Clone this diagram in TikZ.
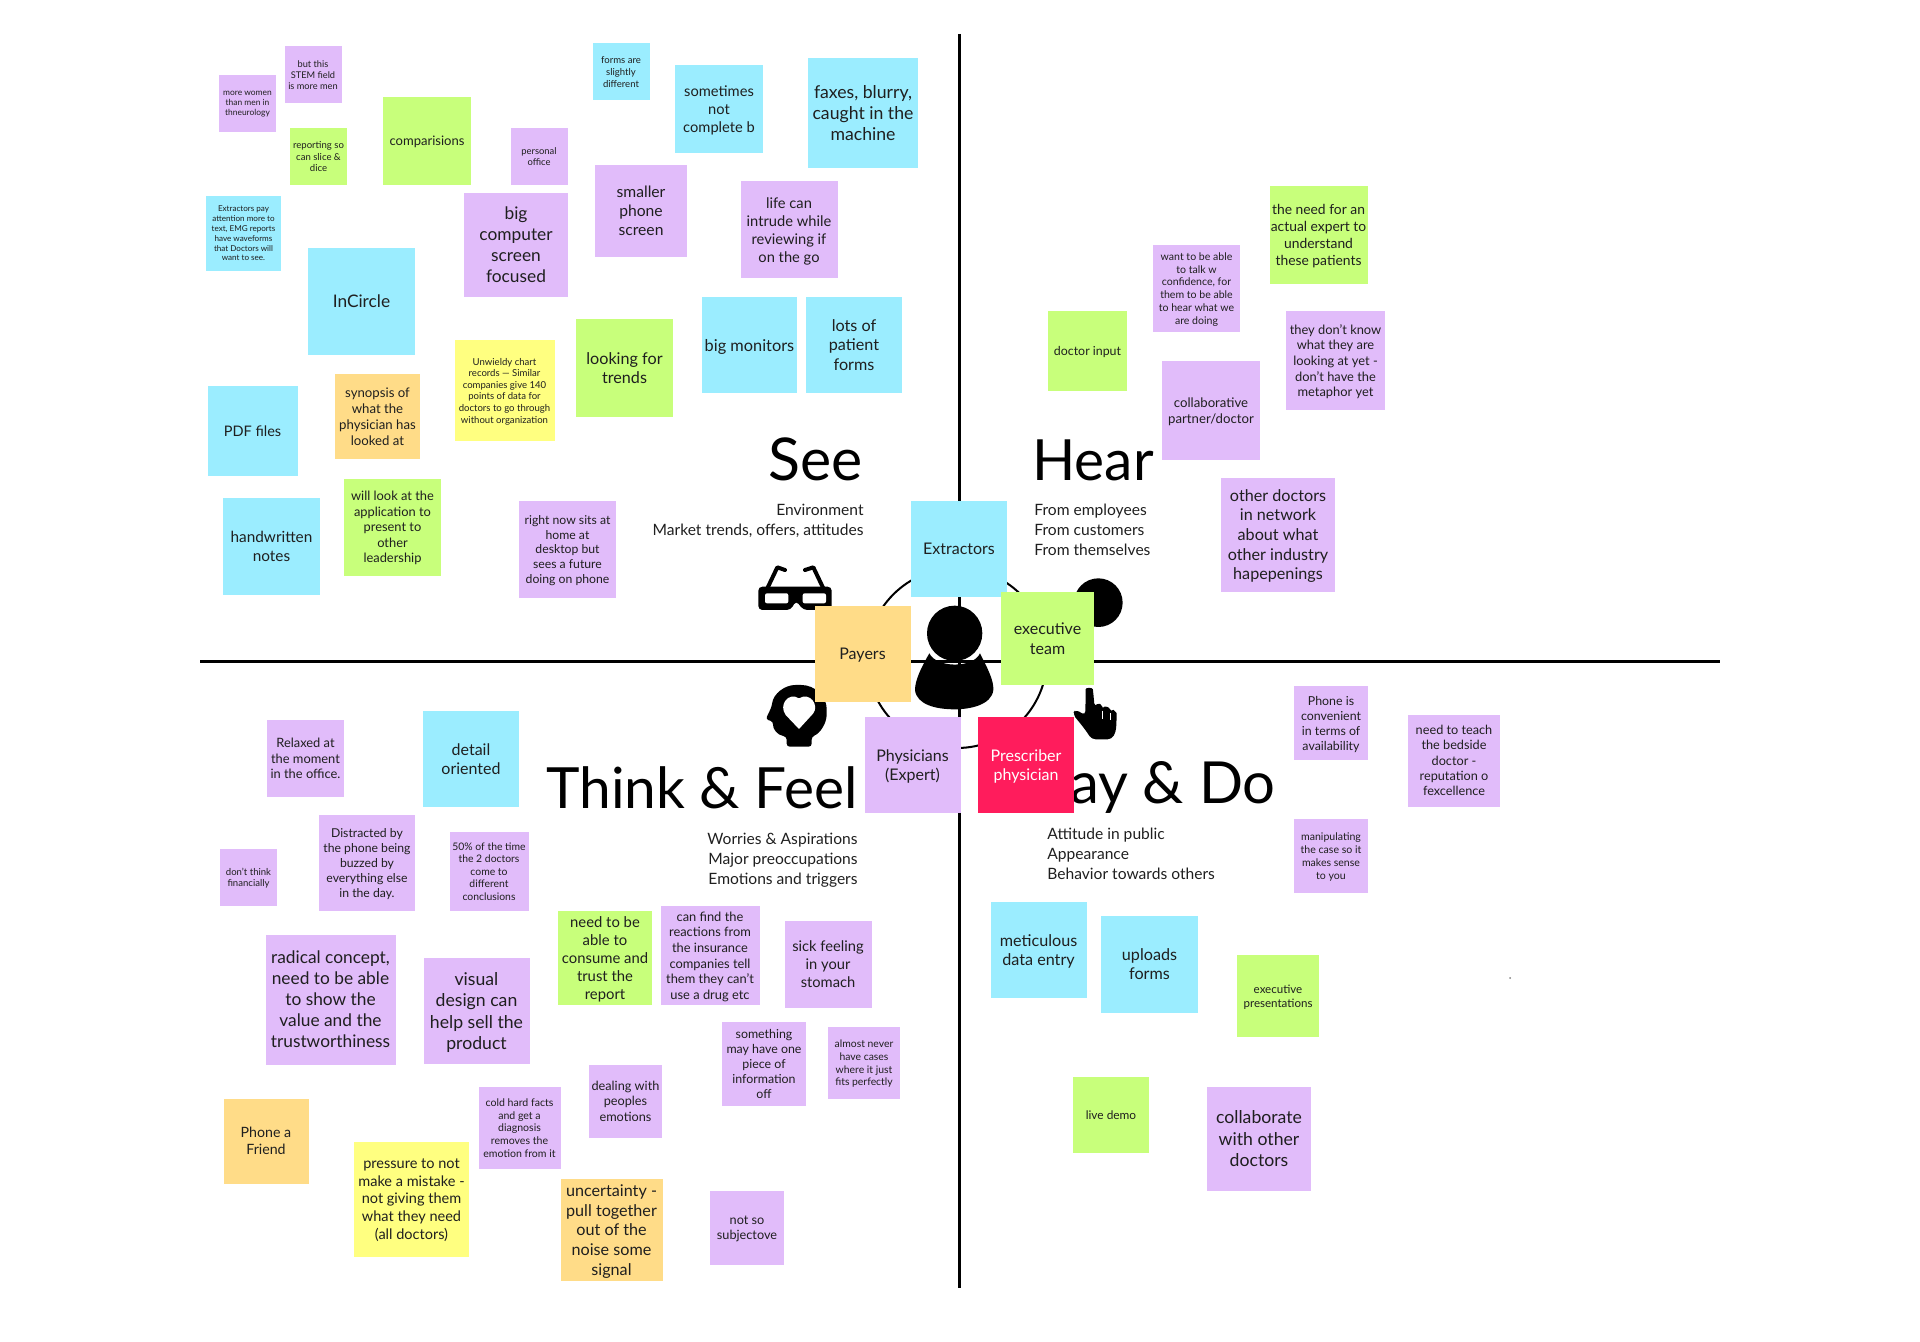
\documentclass[tikz,border=0pt]{standalone}
\usepackage{fontspec}
\setmainfont{Lato}
\usepackage{tikz}
\usetikzlibrary{positioning, calc}

\definecolor{noteblue}{HTML}{9BEDFF}
\definecolor{notepurple}{HTML}{E1BCFA}
\definecolor{notegreen}{HTML}{C8FF7B}
\definecolor{noteyellow}{HTML}{FFFF80}
\definecolor{noteorange}{HTML}{FFDC88}
\definecolor{notered}{HTML}{FF1C5C}

\begin{document}
\begin{tikzpicture}[
    x=0.5pt, y=-0.5pt,
    ls/.code={\pgfmathsetmacro\notefs{#1*0.825}\tikzset{font=\fontsize{\notefs}{#1}\selectfont}},
    sticky/.style={rectangle, inner sep=0pt, minimum size=#1*0.5pt, align=center, text depth=0pt, text=black!88},
    blue note/.style={sticky=#1, fill=noteblue},
    purple note/.style={sticky=#1, fill=notepurple},
    green note/.style={sticky=#1, fill=notegreen},
    yellow note/.style={sticky=#1, fill=noteyellow},
    orange note/.style={sticky=#1, fill=noteorange},
    red note/.style={sticky=#1, fill=notered, text=white},
    quadrant/.style={inner sep=0pt, font=\fontsize{#1}{36}\selectfont, text=black},
    subtitle/.style={inner sep=0pt, font=\fontsize{7.8}{9.8}\selectfont, text=black!88},
    axis/.style={line width=1.5pt, black},
    zoomed/.style={x=0.5pt/3, y=-0.5pt/3}
]
    \useasboundingbox (0,0) rectangle (1920,1342);

    % Axes
    \coordinate (axisN) at (959,34);
    \coordinate (axisS) at (959,1288);
    \coordinate (axisW) at (200,661);
    \coordinate (axisE) at (1720,661);
    \draw[axis] (axisN) -- (axisS);
    \draw[axis] (axisW) -- (axisE);

    % Quadrant titles
    \node[quadrant=29.5, anchor=base east] (seeT) at (863,480) {See};
    \node[quadrant=28.4, anchor=base west] (hearT) at (1032,480) {Hear};
    \node[quadrant=28.4, anchor=base west] (thinkT) at (546,808) {Think \& Feel};
    \node[quadrant=29, anchor=base east] (sayT) at (1276,803) {Say \& Do};

    \node[subtitle, anchor=north east, align=right] (seeS) at (864,504) {Environment\\Market trends, offers, attitudes};
    \node[subtitle, anchor=north west, align=left] (hearS) at (1034,504) {From employees\\From customers\\From themselves};
    \node[subtitle, anchor=north east, align=right] (thinkS) at (858,833) {Worries \& Aspirations\\Major preoccupations\\Emotions and triggers};
    \node[subtitle, anchor=north west, align=left] (sayS) at (1047,828) {Attitude in public\\Appearance\\Behavior towards others};

    % Ring and icons
    \node[draw, circle, line width=1pt, minimum size=90pt, inner sep=0pt] (ring) at (957,658) {};
    \fill[gray] (1510,978) circle (1);
    \begin{scope}[shift={(720,480)}, zoomed]
        % glasses
        \fill[rounded corners=2pt] (115,320) -- (335,320) -- (335,390) -- (250,390) -- (228,362) -- (212,390) -- (115,390) -- cycle;
        \fill[white, rounded corners=1pt] (135,340) rectangle (205,370);
        \fill[white, rounded corners=1pt] (248,340) rectangle (318,370);
        \draw[line width=2pt, line cap=round, line join=round] (142,325) -- (172,262) -- (195,270);
        \draw[line width=2pt, line cap=round, line join=round] (310,325) -- (280,262) -- (255,270);
        % ear
        \fill (1135,368) circle (73);
        % person
        \fill (704,460) circle (83);
        \fill (628,520) .. controls (650,565) and (760,565) .. (780,520) .. controls (800,560) and (822,600) .. (820,630) .. controls (815,675) and (750,688) .. (704,688) .. controls (650,688) and (590,675) .. (585,630) .. controls (585,600) and (605,560) .. cycle;
        % head with heart
        \fill[rounded corners=1.5pt] (200,800) -- (200,770) .. controls (170,765) and (158,745) .. (160,725) -- (137,718) -- (155,680) .. controls (160,640) and (195,615) .. (235,615) .. controls (285,615) and (320,650) .. (320,695) .. controls (320,730) and (300,760) .. (275,770) -- (275,800) -- cycle;
        \fill[white] (237,747) -- (197,705) .. controls (175,675) and (205,635) .. (237,655) .. controls (270,635) and (298,675) .. (280,700) -- cycle;
        % hand
        \fill[rounded corners=2pt] (1097,640) .. controls (1097,622) and (1118,622) .. (1120,640) -- (1124,682) .. controls (1135,668) and (1145,672) .. (1147,690) .. controls (1155,678) and (1168,682) .. (1172,698) .. controls (1180,690) and (1190,698) .. (1190,712) -- (1188,755) -- (1175,778) -- (1115,778) -- (1095,748) -- (1058,702) -- (1066,688) -- (1096,706) -- cycle;
        \draw[white, line width=0.4pt] (1147,692) -- (1147,716);
        \draw[white, line width=0.4pt] (1172,700) -- (1172,720);
    \end{scope}

    % Centre notes
    \node[blue note=96, ls=9.7] (extractors) at (959,549) {Extractors};
    \node[green note=93, ls=9.7] (execteam) at (1047.5,638.5) {executive\\team};
    \node[orange note=96, ls=9.7] (payers) at (862.5,654) {Payers};
    \node[purple note=96, ls=9.7] (physicians) at (912.5,765) {Physicians\\(Expert)};
    \node[red note=96, ls=9.7] (prescriber) at (1026,765) {Prescriber\\physician};

    % See
    \node[purple note=57, ls=5.1] (women) at (247.5,103.5) {more women\\than men in\\thneurology};
    \node[purple note=57, ls=5.6] (stem) at (313,75) {but this\\STEM field\\is more men};
    \node[green note=57, ls=5.8] (slice) at (318.5,156.5) {reporting so\\can slice \&\\dice};
    \node[green note=88, ls=7.9] (compare) at (427,141) {comparisions};
    \node[purple note=57, ls=5.7] (office) at (539,156.5) {personal\\office};
    \node[blue note=75, ls=4.9] (payattn) at (243.5,233.5) {Extractors pay\\attention more to\\text, EMG reports\\have waveforms\\that Doctors will\\want to see.};
    \node[blue note=107, ls=10.5] (incircle) at (361.5,301.5) {InCircle};
    \node[purple note=104, ls=10.5] (bigscreen) at (516,245) {big\\computer\\screen\\focused};
    \node[blue note=57, ls=5.8] (formsdiff) at (621,72) {forms are\\slightly\\different};
    \node[blue note=88, ls=8.9] (sometimes) at (719,109) {sometimes\\not\\complete b};
    \node[blue note=110, ls=10.7] (faxes) at (863,113) {faxes, blurry,\\caught in the\\machine};
    \node[purple note=92, ls=9.5] (phone) at (641,211) {smaller\\phone\\screen};
    \node[purple note=97, ls=8.9] (intrude) at (789,230) {life can\\intrude while\\reviewing if\\on the go};
    \node[blue note=95, ls=9.9] (monitors) at (749.5,345) {big monitors};
    \node[blue note=96, ls=9.8] (patforms) at (854,345) {lots of\\patient\\forms};
    \node[green note=97, ls=9.8] (trends) at (624.5,368) {looking for\\trends};
    \node[yellow note=100, ls=5.8] (chart) at (504.5,390.5) {Unwieldy chart\\records --- Similar\\companies give 140\\points of data for\\doctors to go through\\without organization};
    \node[orange note=85, ls=8] (synopsis) at (377.5,416.5) {synopsis of\\what the\\physician has\\looked at};
    \node[blue note=90, ls=8.8] (pdf) at (252.5,431) {PDF files};
    \node[green note=97, ls=7.8] (present) at (392.5,527) {will look at the\\application to\\present to\\other\\leadership};
    \node[blue note=97, ls=9.3] (handnotes) at (271.5,546.5) {handwritten\\notes};
    \node[purple note=97, ls=7.4] (rightnow) at (567.5,549.5) {right now sits at\\home at\\desktop but\\sees a future\\doing on phone};

    % Hear
    \node[green note=98, ls=8.4] (expert) at (1318.5,235) {the need for an\\actual expert to\\understand\\these patients};
    \node[purple note=87, ls=6.4] (confidence) at (1196.5,288.5) {want to be able\\to talk w\\confidence, for\\them to be able\\to hear what we\\are doing};
    \node[green note=79, ls=7.5] (docinput) at (1087.5,351) {doctor input};
    \node[purple note=99, ls=7.8] (metaphor) at (1335.5,360.5) {they don't know\\what they are\\looking at yet -\\don't have the\\metaphor yet};
    \node[purple note=98, ls=8] (partner) at (1211,410.5) {collaborative\\partner/doctor};
    \node[purple note=114, ls=9.8] (network) at (1278,534.5) {other doctors\\in network\\about what\\other industry\\hapepenings};

    % Think and feel
    \node[purple note=77, ls=7.8] (relaxed) at (305.5,758.5) {Relaxed at\\the moment\\in the office.};
    \node[blue note=96, ls=9.7] (detail) at (471,759) {detail\\oriented};
    \node[purple note=96, ls=7.4] (distracted) at (367,863) {Distracted by\\the phone being\\buzzed by\\everything else\\in the day.};
    \node[purple note=79, ls=6.3] (fifty) at (489,871.5) {50\% of the time\\the 2 doctors\\come to\\different\\conclusions};
    \node[purple note=57, ls=5.8] (financial) at (248.5,877.5) {don't think\\financially};
    \node[purple note=130, ls=10.5] (radical) at (330.5,999.5) {radical concept,\\need to be able\\to show the\\value and the\\trustworthiness};
    \node[purple note=106, ls=10.7] (visual) at (476.5,1011) {visual\\design can\\help sell the\\product};
    \node[green note=94, ls=9] (consume) at (605,958) {need to be\\able to\\consume and\\trust the\\report};
    \node[purple note=99, ls=7.8] (reactions) at (710,955.5) {can find the\\reactions from\\the insurance\\companies tell\\them they can't\\use a drug etc};
    \node[purple note=87, ls=8.9] (stomach) at (828,964) {sick feeling\\in your\\stomach};
    \node[purple note=84, ls=7.5] (onepiece) at (764,1064) {something\\may have one\\piece of\\information\\off};
    \node[purple note=72, ls=6.3] (almost) at (864,1063) {almost never\\have cases\\where it just\\fits perfectly};
    \node[purple note=73, ls=7.7] (emotions) at (625.5,1101) {dealing with\\peoples\\emotions};
    \node[purple note=82, ls=6.4] (coldfacts) at (519.5,1128) {cold hard facts\\and get a\\diagnosis\\removes the\\emotion from it};
    \node[orange note=85, ls=8.6] (friend) at (266,1141) {Phone a\\Friend};
    \node[yellow note=115, ls=8.8] (pressure) at (411.5,1199) {pressure to not\\make a mistake -\\not giving them\\what they need\\(all doctors)};
    \node[orange note=102, ls=9.8] (uncertain) at (611.5,1230) {uncertainty -\\pull together\\out of the\\noise some\\signal};
    \node[purple note=74, ls=7.7] (subjective) at (747,1228) {not so\\subjectove};

    % Say and do
    \node[purple note=74, ls=7.5] (convenient) at (1331,723) {Phone is\\convenient\\in terms of\\availability};
    \node[purple note=92, ls=7.7] (bedside) at (1454,760.5) {need to teach\\the bedside\\doctor -\\reputation o\\fexcellence};
    \node[purple note=74, ls=6.4] (manipulate) at (1331,856) {manipulating\\the case so it\\makes sense\\to you};
    \node[blue note=96, ls=9.8] (entry) at (1038.5,950) {meticulous\\data entry};
    \node[blue note=97, ls=9.8] (uploads) at (1149.5,964) {uploads\\forms};
    \node[green note=82, ls=7] (execpres) at (1278,996) {executive\\presentations};
    \node[green note=76, ls=7.2] (demo) at (1111,1115) {live demo};
    \node[purple note=104, ls=10.7] (collab) at (1259,1138.5) {collaborate\\with other\\doctors};
\end{tikzpicture}
\end{document}
